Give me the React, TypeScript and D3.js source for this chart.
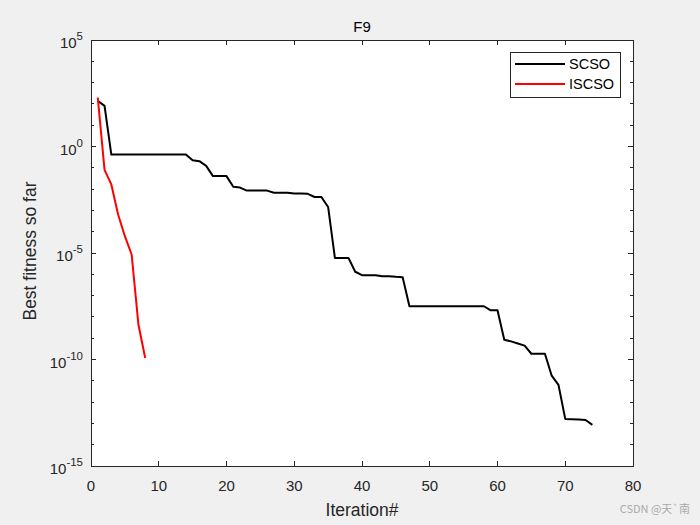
import React from "react";
import * as d3 from "d3";

const scsoLog: number[] = [
  2.14, 1.91, -0.38, -0.38, -0.38, -0.38, -0.38, -0.38, -0.38, -0.38,
  -0.38, -0.38, -0.38, -0.38, -0.65, -0.69, -0.91, -1.39, -1.39, -1.39,
  -1.89, -1.93, -2.07, -2.07, -2.07, -2.07, -2.17, -2.17, -2.17, -2.21,
  -2.21, -2.22, -2.37, -2.37, -2.84, -5.23, -5.23, -5.23, -5.88, -6.04,
  -6.04, -6.04, -6.09, -6.09, -6.12, -6.14, -7.5, -7.5, -7.5, -7.5,
  -7.5, -7.5, -7.5, -7.5, -7.5, -7.5, -7.5, -7.5, -7.69, -7.69,
  -9.07, -9.15, -9.25, -9.35, -9.73, -9.73, -9.73, -10.76, -11.19, -12.79,
  -12.8, -12.82, -12.84, -13.07,
];
const iscsoLog: number[] = [2.3, -1.1, -1.78, -3.19, -4.21, -5.07, -8.36, -9.93];

const scsoValues = scsoLog.map((v) => Math.pow(10, v));
const iscsoValues = iscsoLog.map((v) => Math.pow(10, v));

const xTicks = [0, 10, 20, 30, 40, 50, 60, 70, 80];
const yMajorExps = [5, 0, -5, -10, -15];
const yMinorExps = d3.range(-15, 6);
const seriesNames = ["SCSO", "ISCSO"];
const seriesColors = ["#000000", "#ff0000"];

const W = 700;
const H = 525;
const L = 91;
const R = 633;
const T = 40;
const B = 466;
const FONT = "'Liberation Sans', Arial, Helvetica, sans-serif";
const AX = "#262626";

export default function App() {
  const x = d3.scaleLinear().domain([0, 80]).range([L, R]);
  const y = d3.scaleLog().domain([1e-15, 1e5]).range([B, T]);
  const line = d3
    .line<number>()
    .x((_, i) => x(i + 1))
    .y((d) => y(d));

  const series = [scsoValues, iscsoValues];

  return (
    <svg
      width={W}
      height={H}
      style={{ position: "absolute", left: 0, top: 0, display: "block" }}
      fontFamily={FONT}
    >
      <rect x={0} y={0} width={W} height={H} fill="#f0f0f0" />
      <rect x={L} y={T} width={R - L} height={B - T} fill="#ffffff" />

      {series.map((s, i) => (
        <path
          key={i}
          d={line(s) || ""}
          fill="none"
          stroke={seriesColors[i]}
          strokeWidth={2}
          strokeLinejoin="round"
        />
      ))}

      {/* axes box */}
      <rect x={L} y={T} width={R - L} height={B - T} fill="none" stroke={AX} strokeWidth={1} shapeRendering="crispEdges" />

      {/* x ticks */}
      {xTicks.map((t) => (
        <g key={"x" + t}>
          <line x1={x(t)} x2={x(t)} y1={B} y2={B - 5} stroke={AX} shapeRendering="crispEdges" />
          <line x1={x(t)} x2={x(t)} y1={T} y2={T + 5} stroke={AX} shapeRendering="crispEdges" />
          <text x={x(t)} y={491} textAnchor="middle" fontSize={15} fill={AX}>
            {t}
          </text>
        </g>
      ))}

      {/* y minor ticks */}
      {yMinorExps.map((e) => (
        <g key={"ym" + e}>
          <line x1={L} x2={L + 3} y1={y(Math.pow(10, e))} y2={y(Math.pow(10, e))} stroke={AX} shapeRendering="crispEdges" />
          <line x1={R} x2={R - 3} y1={y(Math.pow(10, e))} y2={y(Math.pow(10, e))} stroke={AX} shapeRendering="crispEdges" />
        </g>
      ))}
      {yMajorExps.map((e) => (
        <g key={"yM" + e}>
          <line x1={L} x2={L + 5} y1={y(Math.pow(10, e))} y2={y(Math.pow(10, e))} stroke={AX} shapeRendering="crispEdges" />
          <line x1={R} x2={R - 5} y1={y(Math.pow(10, e))} y2={y(Math.pow(10, e))} stroke={AX} shapeRendering="crispEdges" />
          <text x={L - 8} y={y(Math.pow(10, e)) + 8} textAnchor="end" fontSize={15} fill={AX}>
            <tspan>10</tspan>
            <tspan dy={-8} fontSize={11.5}>{e}</tspan>
          </text>
        </g>
      ))}

      {/* title & labels */}
      <text x={(L + R) / 2} y={32} textAnchor="middle" fontSize={15} fill="#000">
        F9
      </text>
      <text x={(L + R) / 2} y={516} textAnchor="middle" fontSize={17.5} fill={AX}>
        Iteration#
      </text>
      <text
        transform={`translate(36,251) rotate(-90)`}
        textAnchor="middle"
        fontSize={17.5}
        fill={AX}
      >
        Best fitness so far
      </text>

      {/* legend */}
      <rect x={510.5} y={52.5} width={110} height={45} fill="#fff" stroke={AX} strokeWidth={1} />
      {seriesNames.map((n, i) => (
        <g key={n}>
          <line x1={515} x2={565} y1={64 + i * 20} y2={64 + i * 20} stroke={seriesColors[i]} strokeWidth={2} />
          <text x={569} y={69 + i * 20} fontSize={14.5} fill="#000">
            {n}
          </text>
        </g>
      ))}

      {/* watermark */}
      <text x={690} y={513} textAnchor="end" fontSize={11} fill="#aaaaaa" fontFamily="'Noto Sans CJK SC', 'Noto Sans', sans-serif">
        CSDN @天`南
      </text>
    </svg>
  );
}
